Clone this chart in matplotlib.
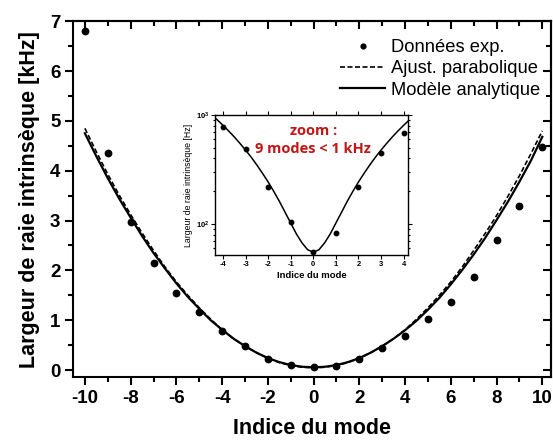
import numpy as np
import matplotlib.pyplot as plt
from matplotlib.ticker import MultipleLocator, LogLocator, NullFormatter

# data points (kHz)
modes = [-10, -9, -8, -7, -6, -5, -4, -3, -2, -1, 0, 1, 2, 3, 4, 5, 6, 7, 8, 9, 10]
largeur = [6.80, 4.35, 2.97, 2.15, 1.55, 1.17, 0.78, 0.49, 0.22, 0.11, 0.055,
           0.08, 0.22, 0.45, 0.68, 1.02, 1.36, 1.87, 2.60, 3.30, 4.47]

# curves, step 0.5 from -10 to 10
x_curve = [-10, -9.5, -9, -8.5, -8, -7.5, -7, -6.5, -6, -5.5, -5, -4.5, -4, -3.5, -3,
           -2.5, -2, -1.5, -1, -0.5, 0, 0.5, 1, 1.5, 2, 2.5, 3, 3.5, 4, 4.5, 5,
           5.5, 6, 6.5, 7, 7.5, 8, 8.5, 9, 9.5, 10]
parabole = [4.85, 4.38, 3.93, 3.51, 3.12, 2.75, 2.40, 2.07, 1.77, 1.50, 1.25, 1.02,
            0.81, 0.63, 0.48, 0.35, 0.24, 0.15, 0.093, 0.057, 0.045, 0.057, 0.093,
            0.15, 0.24, 0.35, 0.48, 0.63, 0.81, 1.02, 1.25, 1.50, 1.77, 2.07, 2.40,
            2.74, 3.10, 3.49, 3.90, 4.34, 4.80]
modele = [4.75, 4.29, 3.85, 3.44, 3.06, 2.69, 2.35, 2.04, 1.74, 1.47, 1.23, 1.00,
          0.81, 0.63, 0.48, 0.35, 0.24, 0.16, 0.10, 0.067, 0.055, 0.067, 0.10,
          0.16, 0.24, 0.35, 0.48, 0.63, 0.80, 0.99, 1.21, 1.45, 1.72, 2.01, 2.32,
          2.65, 3.01, 3.38, 3.78, 4.20, 4.68]

# inset (Hz)
modes_zoom = [-4, -3, -2, -1, 0, 1, 2, 3, 4]
largeur_zoom = [780, 490, 220, 105, 55, 82, 220, 450, 680]
x_zoom = [-4.5, -4.25, -4, -3.75, -3.5, -3.25, -3, -2.75, -2.5, -2.25, -2, -1.75,
          -1.5, -1.25, -1, -0.75, -0.5, -0.25, 0, 0.25, 0.5, 0.75, 1, 1.25, 1.5,
          1.75, 2, 2.25, 2.5, 2.75, 3, 3.25, 3.5, 3.75, 4, 4.25, 4.5]
modele_zoom = [1005, 902, 805, 715, 630, 550, 477, 410, 348, 292, 243, 199, 161,
               128, 102, 81, 67, 58, 55, 58, 67, 81, 102, 128, 161, 199, 243, 292,
               348, 410, 477, 550, 630, 715, 805, 902, 1005]

plt.rcParams['font.family'] = ['Liberation Sans', 'DejaVu Sans']
plt.rcParams['axes.unicode_minus'] = False

fig = plt.figure(figsize=(5.53, 4.41), dpi=100)
ax = fig.add_axes([0.132, 0.145, 0.8644, 0.807])

ax.plot(modes, largeur, 'o', color='black', ms=4.6, label='Données exp.')
ax.plot(x_curve, parabole, '--', color='black', lw=1.2, dashes=(3, 1.5),
        label='Ajust. parabolique')
ax.plot(x_curve, modele, '-', color='black', lw=1.6, label='Modèle analytique')

ax.set_xlim(-10.52, 10.38)
ax.set_ylim(-0.14, 7)
ax.xaxis.set_major_locator(MultipleLocator(2))
ax.xaxis.set_minor_locator(MultipleLocator(1))
ax.yaxis.set_major_locator(MultipleLocator(1))
ax.yaxis.set_minor_locator(MultipleLocator(0.5))
ax.tick_params(which='major', direction='out', length=6, width=1.5,
               labelsize=13.5, pad=3)
ax.tick_params(which='minor', direction='out', length=3.5, width=1.5)
for lab in ax.get_xticklabels() + ax.get_yticklabels():
    lab.set_fontweight('bold')
for sp in ax.spines.values():
    sp.set_linewidth(1.5)

# mirrored ticks pointing inward on top and right
top = ax.secondary_xaxis('top')
top.xaxis.set_major_locator(MultipleLocator(2))
top.xaxis.set_minor_locator(MultipleLocator(1))
top.tick_params(which='major', direction='in', length=6, width=1.5, labeltop=False)
top.tick_params(which='minor', direction='in', length=3.5, width=1.5)
right = ax.secondary_yaxis('right')
right.yaxis.set_major_locator(MultipleLocator(1))
right.yaxis.set_minor_locator(MultipleLocator(0.5))
right.tick_params(which='major', direction='in', length=6, width=1.5, labelright=False)
right.tick_params(which='minor', direction='in', length=3.5, width=1.5)
for sec in (top, right):
    for sp in sec.spines.values():
        sp.set_linewidth(1.5)

ax.set_xlabel('Indice du mode', fontsize=15.5, fontweight='bold', labelpad=8)
ax.set_ylabel('Largeur de raie intrinsèque [kHz]', fontsize=15.5, fontweight='bold',
              labelpad=7)

leg = ax.legend(loc='upper right', bbox_to_anchor=(1.012, 0.995), frameon=False,
                fontsize=13.2, handlelength=2.5, handletextpad=0.3,
                labelspacing=0.22, markerscale=0.75)

# inset
axi = fig.add_axes([0.389, 0.422, 0.349, 0.317])
axi.plot(modes_zoom, largeur_zoom, 'o', color='black', ms=3.2)
axi.plot(x_zoom, modele_zoom, '-', color='black', lw=1.1)
axi.set_yscale('log')
axi.set_xlim(-4.35, 4.2)
axi.set_ylim(52, 1000)
axi.xaxis.set_major_locator(MultipleLocator(1))
axi.yaxis.set_major_locator(LogLocator(base=10))
axi.yaxis.set_minor_locator(LogLocator(base=10, subs=np.arange(2, 10)))
axi.yaxis.set_minor_formatter(NullFormatter())
axi.tick_params(which='both', top=True, right=True, labelsize=5.5, width=0.8)
axi.tick_params(axis='x', which='major', direction='out', length=3, pad=1.5)
axi.tick_params(axis='y', which='major', direction='out', length=3, pad=1)
axi.tick_params(axis='y', which='minor', direction='out', length=1.5)
for lab in axi.get_xticklabels() + axi.get_yticklabels():
    lab.set_fontweight('bold')
for sp in axi.spines.values():
    sp.set_linewidth(1.0)
axi.set_xlabel('Indice du mode', fontsize=6.8, fontweight='bold', labelpad=2)
axi.set_ylabel('Largeur de raie intrinsèque [Hz]', fontsize=6.3, labelpad=2)
axi.text(0.0, 720, 'zoom :', color='#c81414', fontsize=10.5, fontweight='bold',
         ha='center', va='center', family=['Open Sans', 'DejaVu Sans'])
axi.text(0.0, 490, '9 modes < 1 kHz', color='#c81414', fontsize=10.5,
         fontweight='bold', ha='center', va='center', family=['Open Sans', 'DejaVu Sans'])

fig.savefig('out.png', dpi=100)
